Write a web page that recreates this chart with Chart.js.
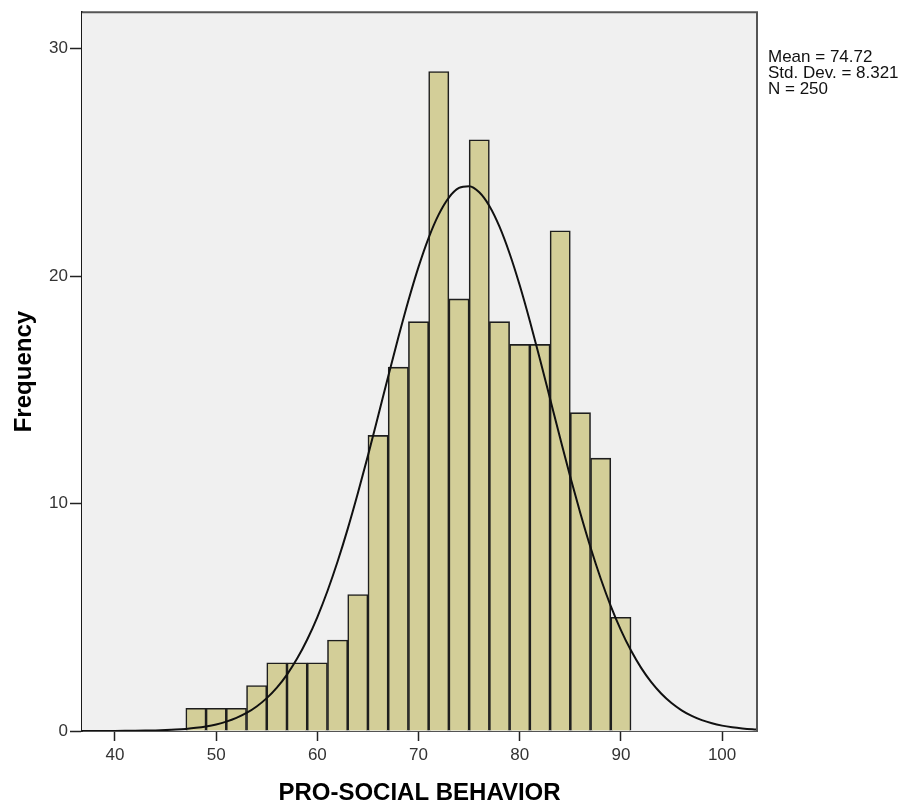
<!DOCTYPE html>
<html>
<head>
<meta charset="utf-8">
<script src="https://cdn.jsdelivr.net/npm/chart.js@4/dist/chart.umd.min.js"></script>
<style>
  html, body { margin: 0; padding: 0; background: #ffffff; }
  #wrap { width: 907px; height: 808px; }
</style>
</head>
<body>
<div id="wrap"><canvas id="c" width="907" height="808"></canvas></div>
<script>
// ---- data ----
const binCenters = [48, 50, 52, 54, 56, 58, 60, 62, 64, 66, 68, 70, 72, 74, 76, 78, 80, 82, 84, 86, 88, 90];
const frequencies = [1, 1, 1, 2, 3, 3, 3, 4, 6, 13, 16, 18, 29, 19, 26, 18, 17, 17, 22, 14, 12, 5];
const curveX = [36, 37, 38, 39, 40, 41, 42, 43, 44, 45, 46, 47, 48, 49, 50, 51, 52, 53, 54, 55, 56, 57, 58, 59, 60,
  61, 62, 63, 64, 65, 66, 67, 68, 69, 70, 71, 72, 73, 74, 75, 76, 77, 78, 79, 80, 81, 82, 83, 84, 85, 86, 87, 88, 89,
  90, 91, 92, 93, 94, 95, 96, 97, 98, 99, 100, 101, 102, 103, 104];
const curveY = [0.0004, 0.0008, 0.0014, 0.0024, 0.004, 0.0065, 0.0105, 0.0167, 0.0263, 0.0407, 0.062, 0.093, 0.138,
  0.202, 0.290, 0.412, 0.576, 0.794, 1.080, 1.446, 1.908, 2.481, 3.183, 4.022, 5.012, 6.158, 7.452, 8.888, 10.453,
  12.11, 13.84, 15.59, 17.30, 18.93, 20.41, 21.69, 22.72, 23.46, 23.88, 23.96, 23.69, 23.09, 22.18, 21.00, 19.60,
  18.03, 16.35, 14.61, 12.87, 11.17, 9.564, 8.068, 6.707, 5.496, 4.439, 3.536, 2.776, 2.148, 1.637, 1.230, 0.911,
  0.665, 0.478, 0.339, 0.237, 0.164, 0.111, 0.074, 0.049];
const xTicks = [40, 50, 60, 70, 80, 90, 100];
const yTicks = [0, 10, 20, 30];
const statsLines = ['Mean = 74.72', 'Std. Dev. = 8.321', 'N = 250'];
const xTitle = 'PRO-SOCIAL BEHAVIOR';
const yTitle = 'Frequency';

const FONT = '"Liberation Sans", Arial, sans-serif';

const decor = {
  id: 'decor',
  beforeDatasetsDraw(chart) {
    const { ctx, chartArea: a } = chart;
    ctx.save();
    ctx.fillStyle = '#f0f0f0';
    ctx.fillRect(a.left, a.top, a.right - a.left, a.bottom - a.top);
    ctx.restore();
  },
  afterDraw(chart) {
    const { ctx, chartArea: a } = chart;
    ctx.save();
    // top/right frame
    ctx.strokeStyle = '#555555';
    ctx.lineWidth = 2;
    ctx.beginPath();
    ctx.moveTo(a.left, a.top);
    ctx.lineTo(a.right, a.top);
    ctx.lineTo(a.right, a.bottom);
    ctx.stroke();
    // stats text
    ctx.fillStyle = '#111111';
    ctx.font = '17px ' + FONT;
    ctx.textAlign = 'left';
    ctx.textBaseline = 'alphabetic';
    statsLines.forEach((t, i) => ctx.fillText(t, a.right + 11, 62 + i * 16));
    // axis titles
    ctx.fillStyle = '#000000';
    ctx.font = 'bold 24px ' + FONT;
    ctx.textAlign = 'center';
    ctx.fillText(xTitle, (a.left + a.right) / 2, 800);
    ctx.translate(31, (a.top + a.bottom) / 2);
    ctx.rotate(-Math.PI / 2);
    ctx.fillText(yTitle, 0, 0);
    ctx.restore();
  }
};

new Chart(document.getElementById('c'), {
  type: 'bar',
  data: {
    datasets: [
      {
        type: 'line',
        data: curveX.map((x, i) => ({ x: x, y: curveY[i] })),
        borderColor: '#111111',
        borderWidth: 2,
        pointRadius: 0,
        cubicInterpolationMode: 'monotone',
        fill: false,
        order: 0
      },
      {
        type: 'bar',
        data: binCenters.map((x, i) => ({ x: x, y: frequencies[i] })),
        backgroundColor: 'rgb(211,206,152)',
        borderColor: '#1e1e1e',
        borderWidth: 1.6,
        barPercentage: 1,
        categoryPercentage: 1,
        order: 1
      }
    ]
  },
  options: {
    responsive: false,
    animation: false,
    layout: { padding: { top: 12, right: 150, bottom: 0, left: 0 } },
    plugins: { legend: { display: false }, tooltip: { enabled: false } },
    scales: {
      x: {
        type: 'linear',
        offset: false,
        min: 36.74,
        max: 103.45,
        afterBuildTicks: s => { s.ticks = xTicks.map(v => ({ value: v })); },
        afterFit: s => { s.height = 77; },
        ticks: { color: '#333333', font: { family: FONT, size: 17 }, padding: 4, maxRotation: 0, autoSkip: false },
        grid: { offset: false, drawOnChartArea: false, drawTicks: true, tickLength: 10, color: '#222222', tickColor: '#222222', tickWidth: 1.5 },
        border: { display: true, color: '#1a1a1a', width: 1.8 }
      },
      y: {
        type: 'linear',
        min: 0,
        max: 31.61,
        afterBuildTicks: s => { s.ticks = yTicks.map(v => ({ value: v })); },
        afterFit: s => { s.width = 82; },
        ticks: { color: '#333333', font: { family: FONT, size: 17 }, padding: 2 },
        grid: { drawOnChartArea: false, drawTicks: true, tickLength: 12, color: '#222222', tickColor: '#222222', tickWidth: 1.5 },
        border: { display: true, color: '#1a1a1a', width: 1.8 }
      }
    }
  },
  plugins: [decor]
});
</script>
</body>
</html>
